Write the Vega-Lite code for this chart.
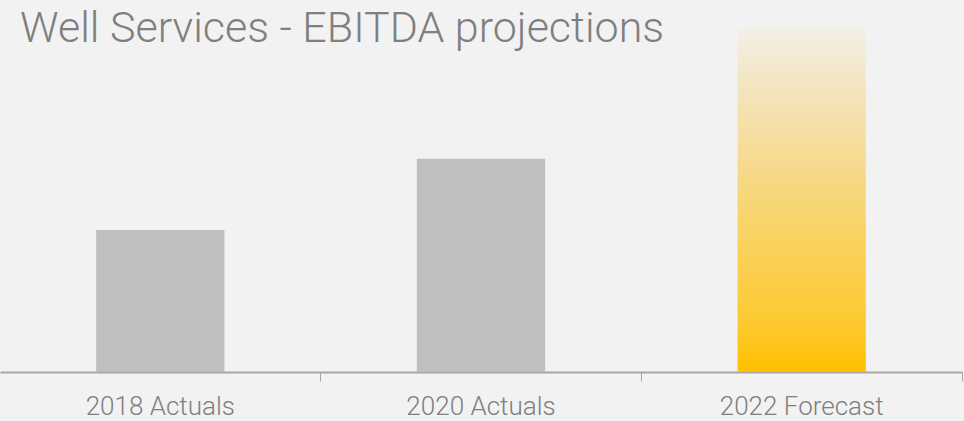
{
  "$schema": "https://vega.github.io/schema/vega-lite/v6.json",
  "width": 962,
  "height": 344,
  "autosize": {"type": "none"},
  "padding": {"left": 0, "top": 28, "right": 2, "bottom": 49},
  "background": "#f2f2f2",
  "title": {
    "text": "Well Services - EBITDA projections",
    "anchor": "start",
    "frame": "group",
    "orient": "top",
    "offset": -26,
    "dy": 40,
    "baseline": "bottom",
    "dx": 20,
    "font": "Roboto",
    "fontWeight": 300,
    "fontSize": 43,
    "color": "#7f7f7f"
  },
  "data": {
    "values": [
      {"period": "2018 Actuals", "ebitda": 41.3},
      {"period": "2020 Actuals", "ebitda": 62.0},
      {"period": "2022 Forecast", "ebitda": 100}
    ]
  },
  "config": {"view": {"stroke": null}},
  "mark": {"type": "bar", "width": {"band": 0.4}},
  "encoding": {
    "x": {
      "field": "period",
      "type": "nominal",
      "sort": null,
      "title": null,
      "scale": {"paddingInner": 0, "paddingOuter": 0},
      "axis": {
        "bandPosition": 1,
        "labelAngle": 0,
        "labelFont": "Roboto",
        "labelFontWeight": 300,
        "labelFontSize": 26,
        "labelColor": "#7f7f7f",
        "labelPadding": 12,
        "domainColor": "#a6a6a6",
        "domainWidth": 2,
        "tickColor": "#a6a6a6",
        "tickSize": 9,
        "tickWidth": 1
      }
    },
    "y": {
      "field": "ebitda",
      "type": "quantitative",
      "scale": {"domain": [0, 100], "nice": false},
      "axis": null
    },
    "color": {
      "condition": {
        "test": "datum.period === '2022 Forecast'",
        "value": {
          "gradient": "linear",
          "x1": 0, "y1": 0, "x2": 0, "y2": 1,
          "stops": [
            {"offset": 0, "color": "#f3f0e9"},
            {"offset": 0.15, "color": "#f3e6c4"},
            {"offset": 0.33, "color": "#f6dd9c"},
            {"offset": 0.44, "color": "#f7d885"},
            {"offset": 0.62, "color": "#f9d25e"},
            {"offset": 0.84, "color": "#fdca35"},
            {"offset": 1, "color": "#ffc000"}
          ]
        }
      },
      "value": "#bfbfbf"
    }
  }
}
